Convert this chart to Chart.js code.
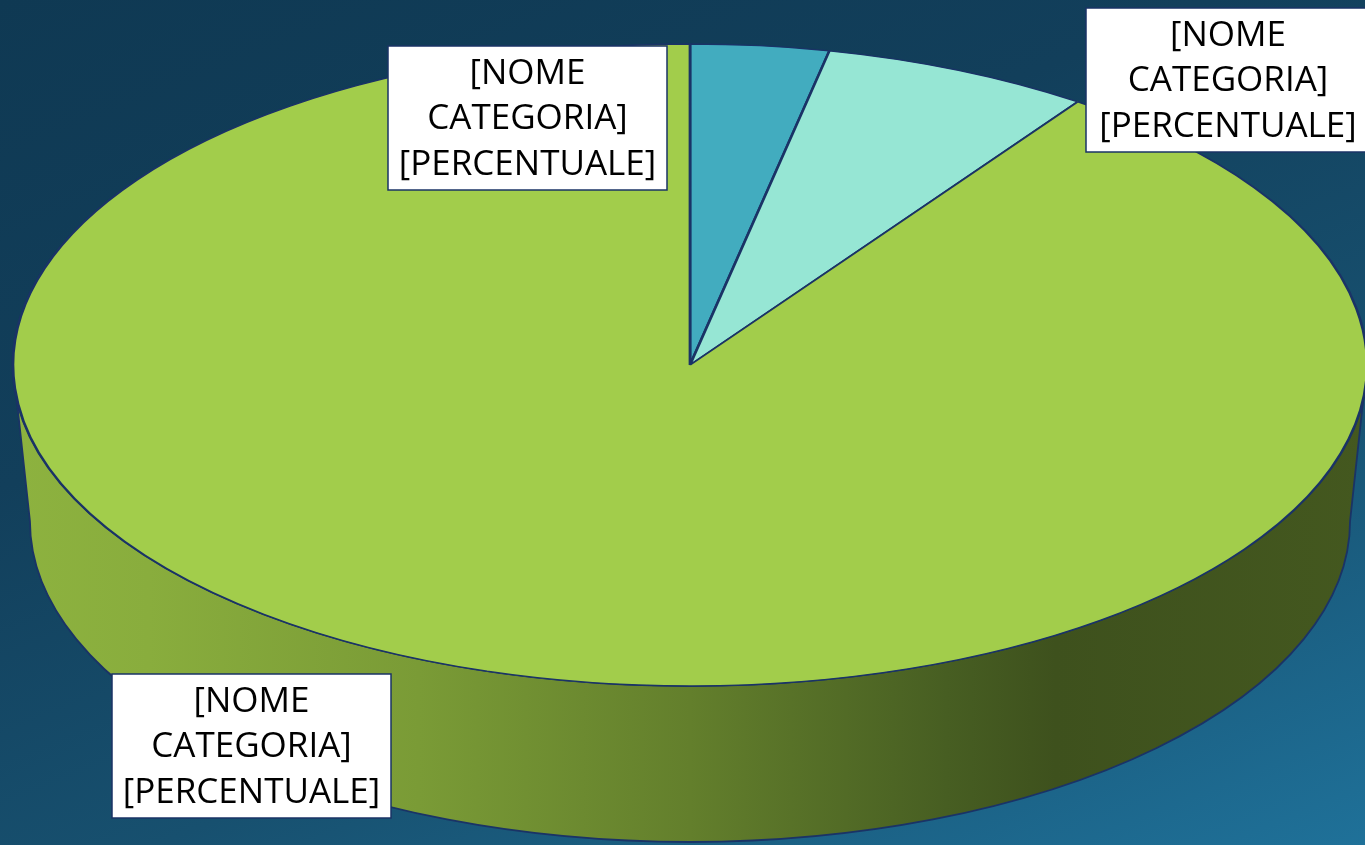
<!DOCTYPE html>
<html>
<head>
<meta charset="utf-8">
<script src="https://cdn.jsdelivr.net/npm/chart.js@4.4.1/dist/chart.umd.min.js"></script>
<style>
  html, body { margin: 0; padding: 0; overflow: hidden; }
  body {
    width: 1365px; height: 845px;
    background: linear-gradient(158deg, #0f3953 0%, #123f5b 35%, #17506f 65%, #1f7199 100%);
  }
  canvas { display: block; }
</style>
</head>
<body>
<canvas id="pieChart" width="1365" height="845"></canvas>
<script>
// Data for the 3D pie
const categories = ['[NOME CATEGORIA]', '[NOME CATEGORIA]', '[NOME CATEGORIA]'];
const percentLabels = ['[PERCENTUALE]', '[PERCENTUALE]', '[PERCENTUALE]'];
const values = [3.3, 6.4, 90.3];
const sliceColors = ['#42acbf', '#96e6d4', '#a2cd4b'];

// Where the flattened pie sits on the page
const EX = 690, EY = 365, RX = 677, RY = 321, DEPTH = 156;
const BOTTOM_SHRINK = 0.975;
const EDGE = '#1a3366';

// label boxes, one per slice (left, top)
const labelBoxes = [
    { x: 388, y: 46, w: 279, h: 144 },
    { x: 1086, y: 8, w: 284, h: 144 },
    { x: 112, y: 674, w: 279, h: 144 }
];

const pie3d = {
    id: 'pie3d',
    beforeDatasetsDraw(chart) {
        const ctx = chart.ctx;
        const arcs = chart.getDatasetMeta(0).data;
        const { x, y, outerRadius: r } = arcs[0];
        ctx.save();
        // squash the circle into an ellipse
        ctx.translate(EX, EY);
        ctx.scale(RX / r, RY / r);
        ctx.translate(-x, -y);

        // side wall, only the front half shows
        const d = DEPTH * r / RY;
        const grad = ctx.createLinearGradient(x - r, 0, x + r, 0);
        grad.addColorStop(0, '#8db23f');
        grad.addColorStop(0.1, '#89ad3d');
        grad.addColorStop(0.3, '#7a9b36');
        grad.addColorStop(0.5, '#637f2c');
        grad.addColorStop(0.69, '#475e22');
        grad.addColorStop(0.77, '#3e511d');
        grad.addColorStop(1, '#44581f');
        arcs.forEach(arc => {
            const a0 = Math.max(arc.startAngle, 0);
            const a1 = Math.min(arc.endAngle, Math.PI);
            if (a1 <= a0) return;
            ctx.beginPath();
            ctx.arc(x, y, r, a0, a1);
            ctx.ellipse(x, y + d, r * BOTTOM_SHRINK, r, 0, a1, a0, true);
            ctx.closePath();
            ctx.fillStyle = grad;
            ctx.fill();
            ctx.save();
            ctx.setTransform(1, 0, 0, 1, 0, 0);
            ctx.lineWidth = 1.8;
            ctx.strokeStyle = EDGE;
            ctx.stroke();
            ctx.restore();
        });
    },
    afterDatasetsDraw(chart) {
        const ctx = chart.ctx;
        ctx.restore();

        // data labels
        ctx.save();
        ctx.font = '35px "Open Sans"';
        ctx.textAlign = 'center';
        ctx.textBaseline = 'middle';
        labelBoxes.forEach((b, i) => {
            ctx.fillStyle = '#ffffff';
            ctx.fillRect(b.x, b.y, b.w, b.h);
            ctx.lineWidth = 1.5;
            ctx.strokeStyle = EDGE;
            ctx.strokeRect(b.x, b.y, b.w, b.h);
            const lines = categories[i].split(' ').concat([percentLabels[i]]);
            ctx.fillStyle = '#000000';
            lines.forEach((t, k) => {
                ctx.fillText(t, b.x + b.w / 2, b.y + 28 + k * 45.5);
            });
        });
        ctx.restore();
    }
};

window.onload = function() {
    const pieCtx = document.getElementById('pieChart').getContext('2d');
    const pieChart = new Chart(pieCtx, {
        type: 'pie',
        data: {
            labels: categories,
            datasets: [{
                data: values,
                backgroundColor: sliceColors,
                borderColor: EDGE,
                borderWidth: 1.7,
                clip: false
            }]
        },
        options: {
            responsive: false,
            animation: false,
            devicePixelRatio: 1,
            layout: { padding: 0 },
            plugins: {
                legend: { display: false },
                tooltip: { enabled: false }
            }
        },
        plugins: [pie3d]
    });
};
</script>
</body>
</html>
